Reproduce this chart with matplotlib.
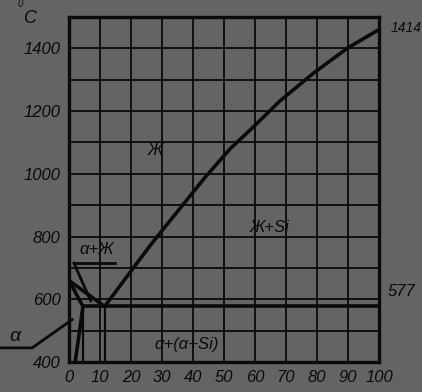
import matplotlib.pyplot as plt
from matplotlib.ticker import MultipleLocator

plt.rcParams["font.family"] = ["Liberation Sans", "DejaVu Sans"]
plt.rcParams["font.style"] = "italic"

BG = "#646464"
INK = "#0a0a0a"

# Si-rich liquidus (eutectic -> Si melting point)
si_liq_x = [11.5, 20, 27, 35, 44, 52, 59, 68, 79, 90, 100]
si_liq_t = [577, 690, 782, 880, 990, 1080, 1145, 1232, 1322, 1402, 1460]
# Al-rich side
al_liq_x = [0, 11.5]
al_liq_t = [660, 577]
solidus_x = [0, 4.5]
solidus_t = [660, 577]
solvus_x = [4.5, 2.0]
solvus_t = [577, 400]
eut_t = 577
eut_x = [4.5, 100]
eut_comp = 11.5
max_sol = 4.5

x_ticks = list(range(0, 101, 10))
y_ticks = list(range(400, 1401, 200))

fig = plt.figure(figsize=(4.22, 3.92), dpi=100, facecolor=BG)
ax = fig.add_axes([69 / 422, 30 / 392, 310 / 422, 345 / 392], facecolor=BG)
ax.set_xlim(0, 100)
ax.set_ylim(400, 1500)

ax.xaxis.set_major_locator(MultipleLocator(10))
ax.yaxis.set_major_locator(MultipleLocator(200))
ax.yaxis.set_minor_locator(MultipleLocator(100))
ax.set_xticks(x_ticks)
ax.set_yticks(y_ticks)
ax.grid(True, which="both", color=INK, lw=1.3)
ax.tick_params(which="both", length=0, labelsize=12, colors=INK, pad=6)
for s in ax.spines.values():
    s.set_color(INK)
    s.set_linewidth(2.4)

lw = 2.6
ax.plot(si_liq_x, si_liq_t, color=INK, lw=lw)
ax.plot(al_liq_x, al_liq_t, color=INK, lw=lw)
ax.plot(solidus_x, solidus_t, color=INK, lw=lw)
ax.plot(solvus_x, solvus_t, color=INK, lw=lw)
ax.plot(eut_x, [eut_t, eut_t], color=INK, lw=lw)
ax.plot([eut_comp, eut_comp], [eut_t, 400], color=INK, lw=1.6)
ax.plot([max_sol, max_sol], [eut_t, 400], color=INK, lw=1.6)

# leaders
ax.plot([1.6, 14.8], [715, 715], color=INK, lw=2, clip_on=False)
ax.plot([1.6, 7.0], [715, 595], color=INK, lw=2, clip_on=False)
ax.plot([-22.3, -11.9, 1.0], [445, 445, 535], color=INK, lw=2, clip_on=False)

fs = 12
ax.text(9, 760, "α+Ж", fontsize=fs, ha="center", va="center", color=INK)
ax.text(-17.4, 480, "α", fontsize=fs + 2, ha="center", va="center", color=INK, clip_on=False)
ax.text(27.7, 1074, "Ж", fontsize=fs, ha="center", va="center", color=INK)
ax.text(64.8, 830, "Ж+Si", fontsize=fs, ha="center", va="center", color=INK)
ax.text(38, 455, "α+(α+Si)", fontsize=fs, ha="center", va="center", color=INK)
ax.text(103.8, 1466, "1414", fontsize=10, ha="left", va="center", color=INK, clip_on=False)
ax.text(102.9, 625, "577", fontsize=12, ha="left", va="center", color=INK, clip_on=False)
ax.text(-12.5, 1494, "C", fontsize=13, ha="center", va="center", color=INK, clip_on=False)
ax.text(-15.6, 1540, "0", fontsize=7, ha="center", va="center", color=INK, clip_on=False)

fig.savefig("out.png", dpi=100, facecolor=BG)
